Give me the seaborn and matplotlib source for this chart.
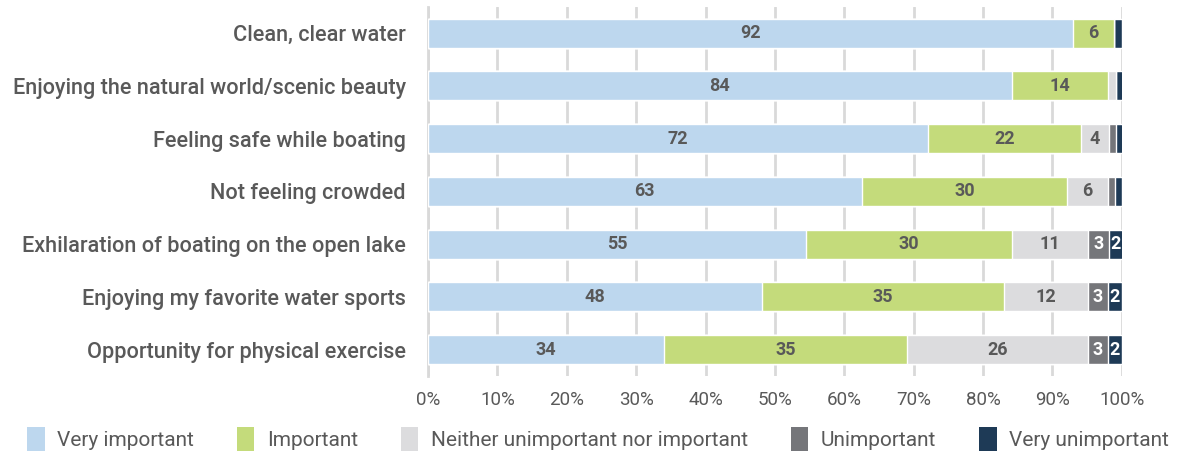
import matplotlib
matplotlib.use("Agg")
import matplotlib.pyplot as plt
import seaborn as sns
import pandas as pd
import numpy as np
from matplotlib.patches import Patch

categories = [
    "Clean, clear water",
    "Enjoying the natural world/scenic beauty",
    "Feeling safe while boating",
    "Not feeling crowded",
    "Exhilaration of boating on the open lake",
    "Enjoying my favorite water sports",
    "Opportunity for physical exercise",
]
levels = ["Very important", "Important", "Neither unimportant nor important",
          "Unimportant", "Very unimportant"]

# segment widths (% of respondents) as drawn
very_important = [92.9, 84.1, 72.0, 62.5, 54.5, 48.1, 34.0]
important = [6.0, 13.9, 22.1, 29.6, 29.6, 34.9, 35.0]
neither = [0.0, 1.1, 4.0, 5.9, 11.0, 12.1, 26.1]
unimportant = [0.0, 0.0, 1.0, 1.0, 3.0, 2.9, 2.9]
very_unimportant = [1.1, 1.0, 1.0, 1.0, 2.0, 2.0, 2.0]

# printed labels (small segments are left unlabelled)
label_vi = ["92", "84", "72", "63", "55", "48", "34"]
label_i = ["6", "14", "22", "30", "30", "35", "35"]
label_n = ["", "", "4", "6", "11", "12", "26"]
label_u = ["", "", "", "", "3", "3", "3"]
label_vu = ["", "", "", "", "2", "2", "2"]

x_ticks = [0, 10, 20, 30, 40, 50, 60, 70, 80, 90, 100]

colors = ["#BDD7EE", "#C4DB7B", "#DCDCDE", "#75767A", "#1E3A56"]
text_grey = "#595959"

sns.set_theme(style="white")
plt.rcParams["font.family"] = ["Roboto", "DejaVu Sans"]

df = pd.DataFrame({
    "category": categories,
    levels[0]: very_important,
    levels[1]: important,
    levels[2]: neither,
    levels[3]: unimportant,
    levels[4]: very_unimportant,
})
cum = df[levels].cumsum(axis=1)
lefts = cum - df[levels]

fig = plt.figure(figsize=(11.84, 4.58), dpi=100)
ax = fig.add_axes([0.3615, 0.179, 0.586, 0.806])

# draw cumulative totals from the longest down so the segments stack
for lev, col in reversed(list(zip(levels, colors))):
    sns.barplot(x=cum[lev], y=df["category"], orient="h", color=col,
                saturation=1, width=0.55, ax=ax, zorder=3)

all_labels = [label_vi, label_i, label_n, label_u, label_vu]
for j, lev in enumerate(levels):
    tcol = "white" if j >= 3 else text_grey
    for i in range(len(categories)):
        lab = all_labels[j][i]
        if lab:
            ax.text(lefts[lev][i] + df[lev][i] / 2, i, lab, ha="center", va="center",
                    fontsize=13, color=tcol, fontweight="semibold", zorder=4)

ax.set_xlim(0, 100)
ax.set_ylim(6.5, -0.5)
ax.set_xticks(x_ticks)
ax.set_xticklabels([f"{t}%" for t in x_ticks])
ax.xaxis.grid(True, color="#D9D9D9", linewidth=2)
ax.yaxis.grid(False)
ax.set_axisbelow(True)
for s in ["top", "right", "bottom"]:
    ax.spines[s].set_visible(False)
ax.spines["left"].set_color("#D9D9D9")
ax.spines["left"].set_linewidth(2)
ax.set_xlabel("")
ax.set_ylabel("")
ax.tick_params(axis="x", length=0, labelsize=13.5, labelcolor=text_grey, pad=11)
ax.tick_params(axis="y", length=0, labelsize=15.6, labelcolor=text_grey, pad=16)
for t in ax.get_yticklabels():
    t.set_fontweight("medium")

handles = [Patch(facecolor=c, edgecolor="none") for c in colors]
fig.legend(handles, levels, loc="lower center", bbox_to_anchor=(0.505, -0.025), ncol=5,
           frameon=False, fontsize=15, labelcolor=text_grey, handlelength=0.85,
           handleheight=1.4, handletextpad=0.6, columnspacing=2.05)

fig.savefig("out.png", dpi=100)
